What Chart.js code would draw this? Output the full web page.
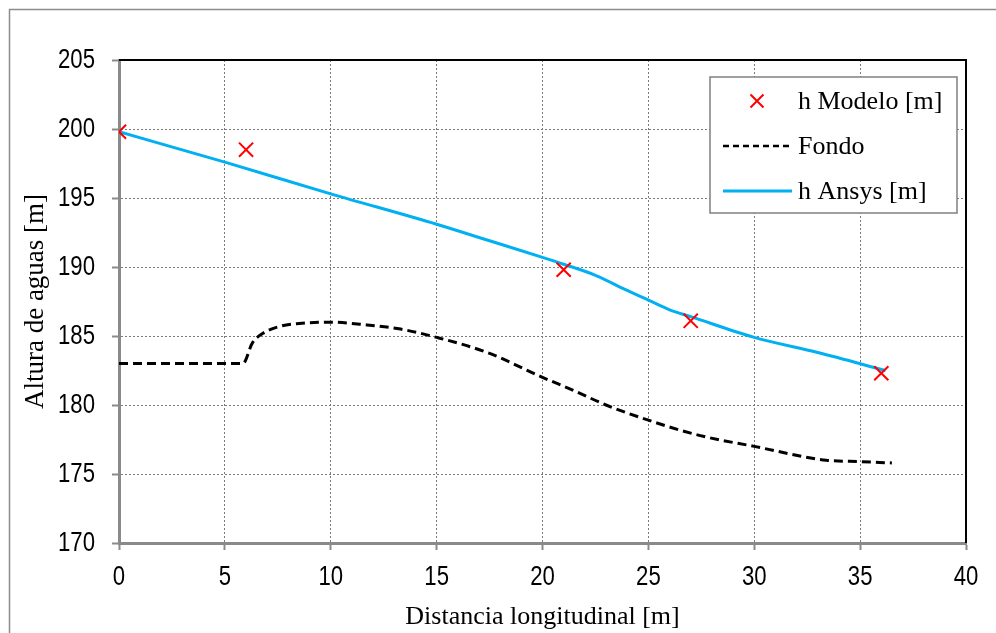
<!DOCTYPE html>
<html>
<head>
<meta charset="utf-8">
<script src="https://cdn.jsdelivr.net/npm/chart.js@4"></script>
<style>
  html, body { margin: 0; padding: 0; background: #fff; }
  #wrap { width: 996px; height: 633px; position: relative; }
</style>
</head>
<body>
<div id="wrap"><canvas id="chart" width="996" height="633"></canvas></div>
<script>
// h Modelo (measured points)
const modeloX = [0, 6, 21, 27, 36];
const modeloY = [199.8, 198.5, 189.8, 186.1, 182.3];

// h Ansys (water surface)
const ansysX = [0, 5, 10, 15, 17.5, 20, 21, 22.5, 24, 25, 26, 27, 30, 33, 36.2];
const ansysY = [199.8, 197.6, 195.3, 193.1, 191.9, 190.7, 190.2, 189.4, 188.3, 187.6, 186.9, 186.4, 184.9, 183.8, 182.5];

// Fondo (channel bed)
const fondoX = [0, 5.85, 6.3, 6.8, 7.6, 8.5, 10, 11.7, 13.3, 15, 17.4, 20, 21.4, 23, 25, 27.4, 30, 33.4, 35, 36.5];
const fondoY = [183, 183, 184.5, 185.2, 185.7, 185.9, 186.0, 185.8, 185.5, 184.9, 183.8, 182.0, 181.1, 180.0, 178.9, 177.8, 177.0, 176.0, 175.9, 175.8];

const xTicks = [0, 5, 10, 15, 20, 25, 30, 35, 40];
const yTicks = [170, 175, 180, 185, 190, 195, 200, 205];

const pts = (xs, ys) => xs.map((x, i) => ({ x, y: ys[i] }));

const serif = "'Liberation Serif', 'Times New Roman', serif";
const titleFont = { family: serif, size: 26 };
const tickFontCss = "27px 'Liberation Sans', Arial, sans-serif";
const squeeze = 0.82; // narrow look of the original tick font

// condensed tick labels drawn at the scales' own tick positions
function drawTickLabels(chart) {
  const c = chart.ctx;
  const a = chart.chartArea;
  const xs = chart.scales.x, ys = chart.scales.y;
  c.save();
  c.font = tickFontCss;
  c.fillStyle = "#000";
  c.textBaseline = "middle";
  ys.ticks.forEach(t => {
    const py = ys.getPixelForValue(t.value);
    c.save();
    c.translate(a.left - 24, py + 1);
    c.scale(squeeze, 1);
    c.textAlign = "right";
    c.fillText(String(t.value), 0, 0);
    c.restore();
  });
  xs.ticks.forEach(t => {
    const px = xs.getPixelForValue(t.value);
    c.save();
    c.translate(px, a.bottom + 35);
    c.scale(squeeze, 1);
    c.textAlign = "center";
    c.fillText(String(t.value), 0, 0);
    c.restore();
  });
  c.restore();
}

// frame, black top/right border and the in-plot legend
const decor = {
  id: "decor",
  beforeDraw(chart) {
    const c = chart.ctx;
    c.save();
    c.fillStyle = "#fff";
    c.fillRect(0, 0, chart.width, chart.height);
    c.strokeStyle = "#8c8c8c";
    c.lineWidth = 1.5;
    c.strokeRect(9.5, 9.5, 990, 640);
    c.restore();
  },
  afterDatasetsDraw(chart) {
    const c = chart.ctx;
    const a = chart.chartArea;
    c.save();
    c.strokeStyle = "#000";
    c.lineWidth = 2;
    c.beginPath();
    c.moveTo(a.left, a.top);
    c.lineTo(a.right, a.top);
    c.lineTo(a.right, a.bottom);
    c.stroke();

    // legend box
    const bx = 710, by = 77, bw = 247, bh = 136;
    c.fillStyle = "#fff";
    c.fillRect(bx, by, bw, bh);
    c.strokeStyle = "#808080";
    c.lineWidth = 1.5;
    c.strokeRect(bx, by, bw, bh);
    c.font = "26px " + serif;
    c.textBaseline = "middle";
    [0, 1, 2].forEach((di, row) => {
      const ds = chart.data.datasets[di];
      const y = by + 24 + row * 45;
      c.strokeStyle = ds.borderColor;
      if (ds.showLine === false) {
        c.lineWidth = 2;
        const h = 6.5;
        c.beginPath();
        c.moveTo(757 - h, y - h); c.lineTo(757 + h, y + h);
        c.moveTo(757 + h, y - h); c.lineTo(757 - h, y + h);
        c.stroke();
      } else {
        c.lineWidth = ds.borderDash ? 2.5 : 3;
        c.setLineDash(ds.borderDash ? [6, 4] : []);
        c.beginPath();
        c.moveTo(723, y); c.lineTo(792, y);
        c.stroke();
        c.setLineDash([]);
      }
      c.fillStyle = "#000";
      c.fillText(ds.label, 798, y + 1);
    });
    c.restore();
    drawTickLabels(chart);
  }
};

const gridOpts = {
  color: "#7a7a7a", lineWidth: 1,
  tickLength: 7, tickColor: "#8a8a8a", tickBorderDash: [], tickWidth: 2
};

new Chart(document.getElementById("chart"), {
  type: "scatter",
  data: {
    datasets: [
      {
        label: "h Modelo [m]",
        data: pts(modeloX, modeloY),
        showLine: false,
        pointStyle: "crossRot",
        pointRadius: 10,
        borderColor: "#ff0000",
        backgroundColor: "#ff0000",
        borderWidth: 2,
        order: 0
      },
      {
        label: "Fondo",
        data: pts(fondoX, fondoY),
        showLine: true,
        borderColor: "#000",
        borderWidth: 3,
        borderDash: [9, 5],
        pointRadius: 0,
        cubicInterpolationMode: "monotone",
        order: 2
      },
      {
        label: "h Ansys [m]",
        data: pts(ansysX, ansysY),
        showLine: true,
        borderColor: "#00b0f0",
        borderWidth: 3,
        pointRadius: 0,
        cubicInterpolationMode: "monotone",
        order: 1
      }
    ]
  },
  options: {
    responsive: false,
    animation: false,
    layout: { padding: { left: 20, right: 30, top: 60, bottom: 0 } },
    plugins: {
      legend: { display: false },
      tooltip: { enabled: false }
    },
    scales: {
      x: {
        type: "linear",
        min: 0, max: 40,
        afterBuildTicks: s => { s.ticks = xTicks.map(v => ({ value: v })); },
        afterFit: s => { s.height = 90; },
        ticks: { display: false },
        grid: gridOpts,
        border: { display: true, color: "#8a8a8a", width: 3, dash: [2, 2] },
        title: { display: true, text: "Distancia longitudinal [m]", color: "#000", font: titleFont, padding: { top: 0, bottom: 0 } }
      },
      y: {
        type: "linear",
        min: 170, max: 205,
        afterBuildTicks: s => { s.ticks = yTicks.map(v => ({ value: v })); },
        afterFit: s => { s.width = 99; },
        ticks: { display: false },
        grid: gridOpts,
        border: { display: true, color: "#8a8a8a", width: 3, dash: [2, 2] },
        title: { display: true, text: "Altura de aguas [m]", color: "#000", font: { family: serif, size: 27 }, padding: { top: 0, bottom: 0 } }
      }
    }
  },
  plugins: [decor]
});
</script>
</body>
</html>
